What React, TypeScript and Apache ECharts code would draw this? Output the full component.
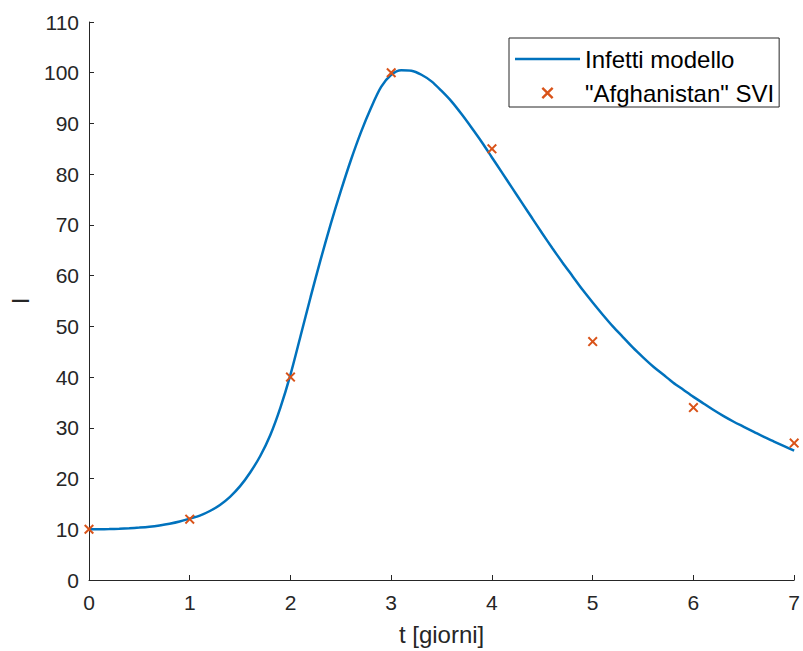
import React, { useEffect, useRef } from "react";
import * as echarts from "echarts";

// Model curve (t in days, I), every 0.1 day
const modelT = [
  0.0, 0.1, 0.2, 0.3, 0.4, 0.5, 0.6, 0.7, 0.8, 0.9,
  1.0, 1.1, 1.2, 1.3, 1.4, 1.5, 1.6, 1.7, 1.8, 1.9,
  2.0, 2.1, 2.2, 2.3, 2.4, 2.5, 2.6, 2.7, 2.8, 2.9,
  3.0, 3.1, 3.2, 3.3, 3.4, 3.5, 3.6, 3.7, 3.8, 3.9,
  4.0, 4.1, 4.2, 4.3, 4.4, 4.5, 4.6, 4.7, 4.8, 4.9,
  5.0, 5.1, 5.2, 5.3, 5.4, 5.5, 5.6, 5.7, 5.8, 5.9,
  6.0, 6.1, 6.2, 6.3, 6.4, 6.5, 6.6, 6.7, 6.8, 6.9,
  7.0,
];
const modelI = [
  10.0, 10.01, 10.05, 10.11, 10.2, 10.33, 10.5, 10.75, 11.08, 11.52,
  12.1, 12.7, 13.6, 14.8, 16.4, 18.5, 21.2, 24.45, 28.6, 34.0,
  40.5, 48.1, 55.8, 63.2, 70.2, 76.7, 82.8, 88.3, 93.1, 97.2,
  99.6, 100.5, 100.4, 99.6, 98.3, 96.4, 94.3, 91.8, 89.1, 86.3,
  83.3, 80.3, 77.3, 74.3, 71.3, 68.3, 65.4, 62.6, 59.9, 57.2,
  54.7, 52.3, 50.0, 47.9, 45.8, 43.9, 42.1, 40.5, 38.9, 37.5,
  36.1, 34.8, 33.5, 32.3, 31.2, 30.2, 29.2, 28.2, 27.3, 26.4,
  25.5,
];

// Observed data
const obsT = [0, 1, 2, 3, 4, 5, 6, 7];
const obsI = [10, 12, 40, 100, 85, 47, 34, 27];

const xTicks = { min: 0, max: 7, interval: 1 };
const yTicks = { min: 0, max: 110, interval: 10 };

const seriesNames = ["Infetti modello", '"Afghanistan" SVI'];

const CROSS =
  "path://M0,1.4L1.4,0L5,3.6L8.6,0L10,1.4L6.4,5L10,8.6L8.6,10L5,6.4L1.4,10L0,8.6L3.6,5Z";
const LINE_ICON = "path://M0,0L65,0L65,2.5L0,2.5Z";

export default function App() {
  const ref = useRef<HTMLDivElement>(null);
  useEffect(() => {
    if (!ref.current) return;
    const chart = echarts.init(ref.current, null, { renderer: "svg" });
    const font = "Liberation Sans, Arial, Helvetica, sans-serif";
    const axisColor = "#262626";
    chart.setOption({
      animation: false,
      backgroundColor: "#ffffff",
      textStyle: { fontFamily: font },
      grid: { left: 88, right: 4, top: 22, bottom: 68, containLabel: false },
      legend: {
        orient: "vertical",
        left: 509,
        top: 38,
        padding: [9, 5, 2, 6],
        itemGap: 10,
        itemWidth: 65,
        itemHeight: 12,
        borderColor: axisColor,
        borderWidth: 1,
        backgroundColor: "#ffffff",
        textStyle: { fontSize: 24, color: "#000000", fontFamily: font },
        data: [
          { name: seriesNames[0], icon: LINE_ICON },
          { name: seriesNames[1], icon: CROSS },
        ],
      },
      xAxis: {
        type: "value",
        min: xTicks.min,
        max: xTicks.max,
        interval: xTicks.interval,
        name: "t [giorni]",
        nameLocation: "middle",
        nameGap: 42,
        nameTextStyle: { fontSize: 24, color: axisColor, fontFamily: font },
        axisLine: { show: true, lineStyle: { color: axisColor, width: 1 } },
        axisTick: { show: true, inside: true, length: 5, lineStyle: { color: axisColor } },
        axisLabel: { fontSize: 21, color: axisColor, margin: 12, fontFamily: font },
        splitLine: { show: false },
      },
      yAxis: {
        type: "value",
        min: yTicks.min,
        max: yTicks.max,
        interval: yTicks.interval,
        name: "I",
        nameLocation: "middle",
        nameRotate: 90,
        nameGap: 57,
        nameTextStyle: { fontSize: 24, color: axisColor, fontFamily: font },
        axisLine: { show: true, lineStyle: { color: axisColor, width: 1 } },
        axisTick: { show: true, inside: true, length: 5, lineStyle: { color: axisColor } },
        axisLabel: { fontSize: 21, color: axisColor, margin: 10, fontFamily: font },
        splitLine: { show: false },
      },
      series: [
        {
          name: seriesNames[0],
          type: "line",
          data: modelT.map((t, i) => [t, modelI[i]]),
          smooth: 0.3,
          symbol: "none",
          lineStyle: { color: "#0072BD", width: 2.5 },
          itemStyle: { color: "#0072BD" },
          z: 2,
        },
        {
          name: seriesNames[1],
          type: "scatter",
          data: obsT.map((t, i) => [t, obsI[i]]),
          symbol: CROSS,
          symbolSize: 10,
          itemStyle: { color: "#D95319", opacity: 1 },
          clip: false,
          z: 3,
        },
      ],
    });
    return () => chart.dispose();
  }, []);
  return <div ref={ref} style={{ width: 803, height: 651, position: "absolute", left: 0, top: 0 }} />;
}
